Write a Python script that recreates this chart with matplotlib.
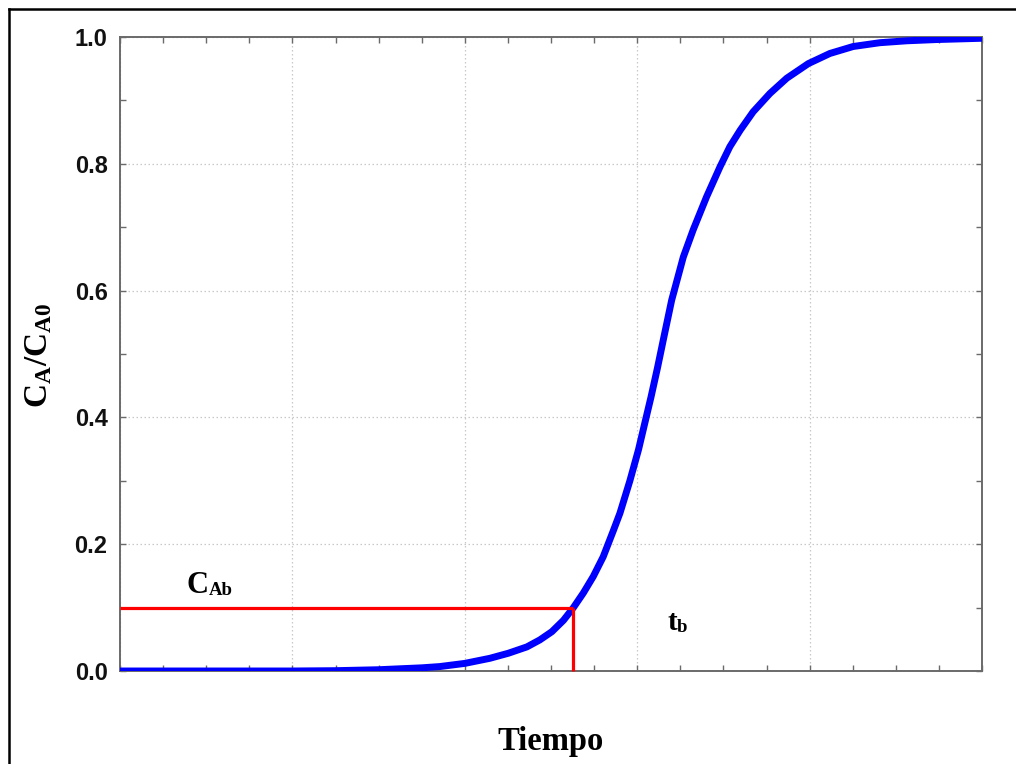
import matplotlib
matplotlib.use("Agg")
import matplotlib.pyplot as plt
import matplotlib.transforms as mtransforms
from matplotlib.lines import Line2D
from matplotlib.ticker import MultipleLocator, NullFormatter

# ---- data ----
tiempo = [0, 2, 4, 5, 6, 7, 7.42, 8.0, 8.58, 9.01, 9.44, 9.74, 10.02, 10.29,
          10.52, 10.75, 10.98, 11.21, 11.45, 11.6, 11.83, 12.03, 12.18, 12.32,
          12.47, 12.62, 12.80, 13.07, 13.30, 13.61, 13.92, 14.15, 14.39, 14.69,
          15.08, 15.47, 15.97, 16.47, 17.01, 17.63, 18.25, 18.95, 20.0]
ca_ca0 = [0.0, 0.0, 0.0, 0.0005, 0.002, 0.005, 0.007, 0.012, 0.020, 0.028,
          0.038, 0.049, 0.062, 0.080, 0.100, 0.123, 0.149, 0.180, 0.222,
          0.249, 0.300, 0.349, 0.392, 0.432, 0.478, 0.527, 0.585, 0.653,
          0.696, 0.748, 0.795, 0.827, 0.853, 0.882, 0.911, 0.935, 0.958,
          0.974, 0.985, 0.991, 0.994, 0.996, 0.998]
cab = 0.1
tb = 10.5
y_ticks = [0.0, 0.2, 0.4, 0.6, 0.8, 1.0]
y_tick_labels = ["0.0", "0.2", "0.4", "0.6", "0.8", "1.0"]

W, H = 1016, 764
fig = plt.figure(figsize=(W / 100, H / 100), dpi=100)
ax = fig.add_axes([120 / W, 1 - 671 / H, 862 / W, 634 / H])

spine_col = "#6a6a6a"
ax.set_xlim(0, 20)
ax.set_ylim(0, 1)

ax.plot(tiempo, ca_ca0, color="#0000ff", lw=5.0, solid_capstyle="butt",
        solid_joinstyle="round", zorder=3)
ax.plot([0, tb], [cab, cab], color="#ff0000", lw=2.3, zorder=4,
        solid_capstyle="butt")
ax.plot([tb, tb], [0, cab], color="#ff0000", lw=2.3, zorder=4,
        solid_capstyle="butt", clip_on=False)

ax.xaxis.set_major_locator(MultipleLocator(4))
ax.xaxis.set_minor_locator(MultipleLocator(1))
ax.xaxis.set_major_formatter(NullFormatter())
ax.set_yticks(y_ticks)
ax.set_yticklabels(y_tick_labels, fontfamily="Liberation Sans",
                   fontweight="bold", fontsize=17)
ax.yaxis.set_minor_locator(MultipleLocator(0.1))

ax.tick_params(which="both", direction="in", top=True, right=True,
               color=spine_col, width=1.0, length=4)
ax.tick_params(axis="y", which="major", pad=9, labelcolor="#111111")
for s in ax.spines.values():
    s.set_color(spine_col)
    s.set_linewidth(1.4)

ax.grid(True, which="major", linestyle=(0, (1.2, 2)), color="#c8c8c8",
        linewidth=0.9)
ax.set_axisbelow(True)

# annotations
serif = "Liberation Serif"


def sub_text(x, y, main, sub, s_main, s_sub, dy_pt):
    t = ax.text(x, y, main, fontfamily=serif, fontweight="bold",
                fontsize=s_main, va="baseline", ha="left", zorder=5)
    fig.canvas.draw()
    bb = t.get_window_extent(renderer=fig.canvas.get_renderer())
    off = mtransforms.ScaledTranslation(bb.width / fig.dpi, -dy_pt / 72,
                                        fig.dpi_scale_trans)
    ax.text(x, y, sub, fontfamily=serif, fontweight="bold", fontsize=s_sub,
            va="baseline", ha="left", transform=ax.transData + off, zorder=5)


sub_text(1.55, 0.123, "C", "Ab", 22, 13.5, 1.5)
sub_text(12.7, 0.065, "t", "b", 21, 13.5, 1.5)

fig.text(551 / W, 1 - 750 / H, "Tiempo", fontfamily=serif, fontweight="bold",
         fontsize=23.5, ha="center", va="baseline")

plt.rcParams["mathtext.fontset"] = "custom"
plt.rcParams["mathtext.bf"] = "Liberation Serif:bold"
plt.rcParams["mathtext.rm"] = "Liberation Serif:bold"
fig.text(38 / W, 1 - 355 / H, r"$\mathbf{C_A/C_{A0}}$", fontsize=24,
         rotation=90, ha="center", va="center")

# outer frame
fig.add_artist(Line2D([9 / W, 9 / W], [0, 1 - 9 / H], color="black",
                      lw=1.8, transform=fig.transFigure))
fig.add_artist(Line2D([9 / W, 1], [1 - 9 / H, 1 - 9 / H], color="black",
                      lw=1.8, transform=fig.transFigure))

fig.savefig("out.png", dpi=100)
